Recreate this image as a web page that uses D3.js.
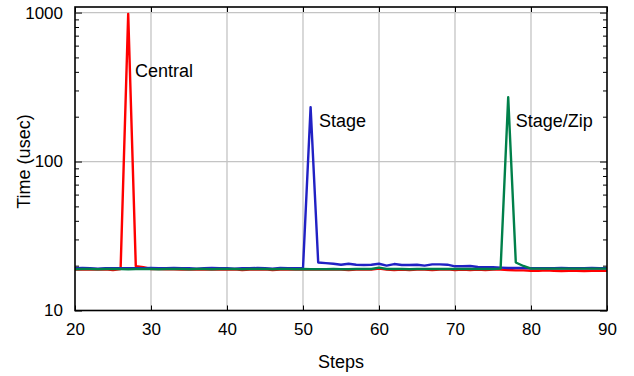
<!DOCTYPE html>
<html>
<head>
<meta charset="utf-8">
<script src="https://cdn.jsdelivr.net/npm/d3@7"></script>
<style>
  html, body { margin: 0; padding: 0; background: #fff; }
  svg { display: block; }
  text { font-family: "Liberation Sans", Arial, Helvetica, sans-serif; fill: #000; }
</style>
</head>
<body>
<svg id="chart" width="634" height="376"></svg>
<script>
// Step numbers 20..90
const steps = [20,21,22,23,24,25,26,27,28,29,30,31,32,33,34,35,36,37,38,39,
  40,41,42,43,44,45,46,47,48,49,50,51,52,53,54,55,56,57,58,59,
  60,61,62,63,64,65,66,67,68,69,70,71,72,73,74,75,76,77,78,79,
  80,81,82,83,84,85,86,87,88,89,90];

// Time per step (usec)
const central = [18.8,18.9,18.8,18.8,18.9,18.7,19.0,980,19.8,19.5,19.0,19.0,18.9,18.9,18.8,18.8,18.9,18.8,18.9,18.8,
  18.8,18.9,18.7,18.8,18.8,18.9,18.7,18.8,18.9,18.8,18.8,18.9,18.8,18.8,18.9,18.8,18.7,18.8,18.9,18.8,
  19.1,18.8,18.7,18.8,18.7,18.8,18.8,18.7,18.8,18.9,18.7,18.8,18.7,18.8,18.7,18.8,18.8,18.7,18.6,18.6,
  18.5,18.5,18.6,18.5,18.4,18.5,18.5,18.4,18.5,18.5,18.5];
const stage = [19.2,19.3,19.2,19.1,19.2,19.2,19.2,19.2,19.2,19.2,19.3,19.2,19.2,19.3,19.2,19.2,19.1,19.2,19.3,19.2,
  19.2,19.1,19.2,19.2,19.3,19.2,19.1,19.3,19.2,19.2,19.2,232,21.0,20.8,20.6,20.3,20.6,20.3,20.2,20.3,
  20.6,20.0,20.5,20.2,20.2,20.3,20.0,20.4,20.4,20.3,19.8,19.8,19.9,19.6,19.5,19.5,19.4,19.3,19.3,19.3,
  19.2,19.2,19.2,19.2,19.3,19.2,19.2,19.2,19.3,19.2,19.2];
const stageZip = [18.9,19.0,19.0,18.9,19.0,19.0,19.0,18.9,19.0,19.0,19.0,18.9,19.0,19.0,19.0,18.9,19.0,19.0,18.9,19.0,
  19.0,19.0,18.9,19.0,19.0,19.0,18.9,19.0,19.0,18.9,19.0,18.9,18.9,18.9,19.0,18.9,18.9,19.0,19.0,19.0,
  19.4,19.0,19.0,19.0,18.9,19.0,19.0,19.0,19.0,19.0,19.0,19.0,19.0,19.0,19.0,19.0,19.1,270,21.0,19.9,
  19.1,19.1,19.1,19.1,19.1,19.1,19.1,19.1,19.1,19.1,19.1];

const xTicks = [20,30,40,50,60,70,80,90];
const yTicks = [10,100,1000];
const yMinor = [20,30,40,50,60,70,80,90,200,300,400,500,600,700,800,900];

const series = [
  { name: "Central",   values: central,  color: "#ff0000", labelStep: 27.9, labelValue: 395 },
  { name: "Stage",     values: stage,    color: "#2121c4", labelStep: 52.1, labelValue: 184 },
  { name: "Stage/Zip", values: stageZip, color: "#00804a", labelStep: 78.0, labelValue: 184 }
];

const svg = d3.select("#chart");
const plotLeft = 75, plotRight = 607, plotTop = 7, plotBottom = 310.5;

const x = d3.scaleLinear().domain([20, 90]).range([plotLeft, plotRight]);
const y = d3.scaleLog().domain([10, 1090]).range([plotBottom, plotTop]);

// grid
const grid = svg.append("g").attr("stroke", "#c4c4c4").attr("stroke-width", 1.3);
xTicks.slice(1, -1).forEach(t => {
  grid.append("line").attr("x1", x(t)).attr("x2", x(t)).attr("y1", plotTop).attr("y2", plotBottom);
});
[100, 1000].forEach(t => {
  grid.append("line").attr("x1", plotLeft).attr("x2", plotRight).attr("y1", y(t)).attr("y2", y(t));
});

// data lines
const line = d3.line().x((d, i) => x(steps[i])).y(d => y(d));
series.forEach(s => {
  svg.append("path")
    .datum(s.values)
    .attr("fill", "none")
    .attr("stroke", s.color)
    .attr("stroke-width", 2.4)
    .attr("stroke-linejoin", "round")
    .attr("d", line);
});

// axes with inward ticks on all four sides
const fs = 17;
const axB = d3.axisBottom(x).tickValues(xTicks).tickSize(-5).tickPadding(12).tickFormat(d3.format("d"));
const axT = d3.axisTop(x).tickValues(xTicks).tickSize(-5).tickFormat("");
const axL = d3.axisLeft(y).tickValues(yTicks).tickSize(-7).tickPadding(12).tickFormat(d3.format("d"));
const axR = d3.axisRight(y).tickValues(yTicks).tickSize(-7).tickFormat("");
const axLm = d3.axisLeft(y).tickValues(yMinor).tickSize(-4).tickFormat("");
const axRm = d3.axisRight(y).tickValues(yMinor).tickSize(-4).tickFormat("");

function styleAxis(g) {
  g.select(".domain").remove();
  g.selectAll(".tick line").attr("stroke", "#000").attr("stroke-width", 1);
  g.selectAll("text").attr("font-size", fs).style("font-family", "'Liberation Sans', Arial, sans-serif").attr("fill", "#000");
}
svg.append("g").attr("transform", `translate(0,${plotBottom})`).call(axB).call(styleAxis);
svg.append("g").attr("transform", `translate(0,${plotTop})`).call(axT).call(styleAxis);
svg.append("g").attr("transform", `translate(${plotLeft},0)`).call(axL).call(styleAxis);
svg.append("g").attr("transform", `translate(${plotRight},0)`).call(axR).call(styleAxis);
svg.append("g").attr("transform", `translate(${plotLeft},0)`).call(axLm).call(styleAxis);
svg.append("g").attr("transform", `translate(${plotRight},0)`).call(axRm).call(styleAxis);

// frame
svg.append("rect")
  .attr("x", plotLeft).attr("y", plotTop)
  .attr("width", plotRight - plotLeft).attr("height", plotBottom - plotTop)
  .attr("fill", "none").attr("stroke", "#000").attr("stroke-width", 1.6);

// series labels
const lfs = 18;
series.forEach(s => {
  svg.append("text")
    .attr("x", x(s.labelStep)).attr("y", y(s.labelValue))
    .attr("font-size", lfs)
    .attr("dominant-baseline", "middle")
    .text(s.name);
});

// axis titles
svg.append("text")
  .attr("x", x(55)).attr("y", 368)
  .attr("text-anchor", "middle").attr("font-size", lfs)
  .text("Steps");
svg.append("text")
  .attr("transform", `translate(30,${y(100)}) rotate(-90)`)
  .attr("text-anchor", "middle").attr("font-size", lfs)
  .text("Time (usec)");
</script>
</body>
</html>
